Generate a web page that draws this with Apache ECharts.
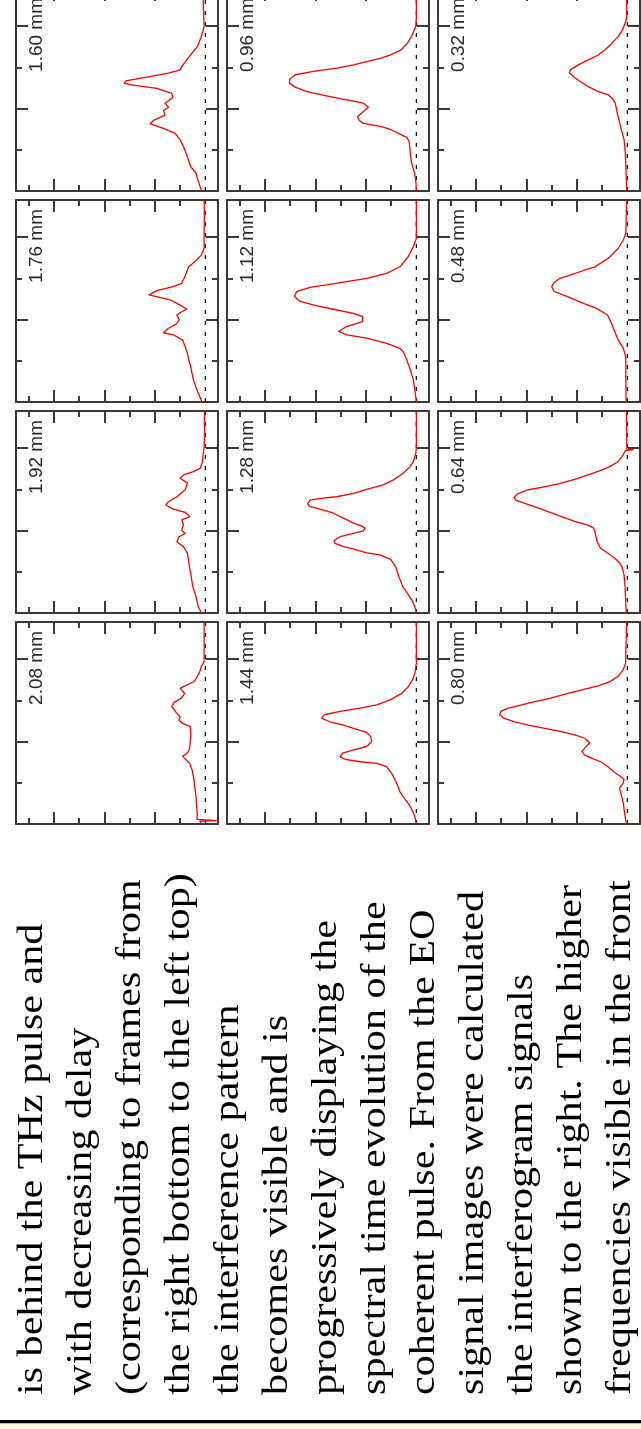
<!DOCTYPE html>
<html><head><meta charset="utf-8">
<script src="https://cdn.jsdelivr.net/npm/echarts@6/dist/echarts.min.js"></script>
<style>html,body{margin:0;padding:0;background:#fff;overflow:hidden}#c{width:641px;height:1429px}</style>
</head><body><div id="c"></div><script>
// ---- panel labels (delay) ----
const labels = ['1.60 mm','1.76 mm','1.92 mm','2.08 mm','0.96 mm','1.12 mm','1.28 mm','1.44 mm','0.32 mm','0.48 mm','0.64 mm','0.80 mm'];
// ---- tick values ----
const sigMajor = [2,4,6], sigMinor = [1,3,5,7];
const timeMajor = [2,4], timeMinor = [1,3];
// ---- curves: time (a.u.) and signal (a.u.) ----
const t160 = [0,0.11,0.27,0.43,0.59,0.75,0.91,1.08,1.24,1.40,1.52,1.63,1.72,1.84,1.95,2.03,2.13,2.27,2.37,2.49,2.57,2.61,2.68,2.76,2.86,2.94,3.03,3.18,3.34,3.50,3.71,3.91,4.0,4.5,4.9];
const s160 = [0.15,0.21,0.30,0.37,0.58,0.67,0.76,0.87,1.0,1.20,1.66,2.19,2.03,1.60,1.66,1.46,1.60,1.29,1.33,1.93,2.85,3.22,3.11,2.32,1.46,1.0,0.92,0.74,0.54,0.32,0.18,0.08,0.05,0.08,0.1];
const t176 = [0,0.21,0.37,0.53,0.70,0.86,1.02,1.18,1.34,1.50,1.63,1.68,1.79,1.89,1.99,2.11,2.19,2.25,2.35,2.48,2.60,2.70,2.80,2.88,3.0,3.16,3.28,3.34,3.45,3.57,3.73,4.09,4.5,4.9];
const s176 = [0.13,0.28,0.38,0.47,0.53,0.58,0.66,0.71,0.80,0.90,1.27,1.66,1.46,1.16,1.03,1.13,0.94,0.74,1.0,1.40,2.23,1.93,1.27,0.94,0.84,0.74,0.66,0.54,0.34,0.15,0.05,0.05,0.04,0.05];
const t192 = [0,0.15,0.32,0.48,0.64,0.80,0.96,1.12,1.29,1.45,1.61,1.73,1.85,1.93,2.01,2.14,2.26,2.34,2.44,2.52,2.62,2.70,2.82,2.99,3.15,3.27,3.35,3.43,3.51,3.63,3.88,4.04,4.36,4.68,4.9];
const s192 = [0.15,0.28,0.34,0.41,0.50,0.54,0.58,0.63,0.67,0.71,0.87,1.13,1.04,0.80,0.94,0.87,0.94,0.61,0.80,1.27,1.56,1.46,1.13,0.80,0.71,1.0,0.87,0.47,0.21,0.13,0.08,0.05,0.03,0.04,0.03];
const t208 = [0,0.07,0.08,0.10,0.11,0.26,0.45,0.66,0.9,1.07,1.3,1.47,1.55,1.64,1.72,1.8,1.96,2.2,2.36,2.44,2.52,2.6,2.7,2.85,2.95,3.05,3.17,3.29,3.37,3.45,3.58,3.7,3.82,3.94,4.9];
const s208 = [0.15,0.22,-0.45,-0.45,0.33,0.32,0.35,0.37,0.42,0.45,0.52,0.62,0.75,0.9,0.72,0.64,0.6,0.58,0.6,0.9,1.05,1.0,1.15,1.33,1.24,0.96,0.82,1.0,0.75,0.45,0.32,0.22,0.16,0.05,0.05];
const t096 = [0,0.23,0.43,0.59,0.75,1.0,1.20,1.30,1.38,1.48,1.56,1.64,1.71,1.80,1.93,2.03,2.13,2.21,2.29,2.41,2.52,2.61,2.71,2.82,2.90,2.98,3.06,3.14,3.22,3.30,3.42,3.58,3.75,3.91,4.0,4.23,4.9];
const s096 = [0,0.02,0.07,0.15,0.21,0.25,0.29,0.38,0.65,0.98,1.38,2.10,2.26,2.33,2.10,1.90,2.10,2.76,3.42,4.34,4.80,5.02,5.02,4.80,4.08,3.15,2.49,1.97,1.44,1.02,0.61,0.36,0.19,0.08,0.02,0,0];
const t112 = [0,0.25,0.53,0.8,1.02,1.20,1.30,1.42,1.55,1.63,1.71,1.83,1.95,2.07,2.15,2.25,2.33,2.44,2.56,2.68,2.78,2.84,2.92,3.0,3.12,3.28,3.53,3.77,3.97,4.9];
const s112 = [0,0.05,0.12,0.25,0.38,0.5,0.65,1.18,1.97,2.76,3.09,2.76,2.13,2.13,2.50,3.29,3.94,4.60,4.83,4.74,4.21,3.55,2.76,1.97,1.18,0.65,0.32,0.12,0,0];
const t128 = [0,0.15,0.32,0.48,0.64,0.88,1.12,1.30,1.41,1.46,1.55,1.61,1.69,1.76,1.85,1.93,1.99,2.06,2.11,2.18,2.30,2.42,2.52,2.58,2.65,2.74,2.78,2.82,2.90,3.0,3.11,3.23,3.39,3.55,3.67,3.88,4.04,4.9];
const s128 = [0,0.06,0.19,0.36,0.54,0.69,0.82,1.02,1.44,1.97,2.49,2.89,3.22,3.26,3.02,2.49,2.10,2.03,2.16,2.49,2.89,3.29,3.81,4.21,4.31,4.21,3.81,3.16,2.49,1.97,1.31,0.91,0.52,0.25,0.12,0.02,0,0];
const t144 = [0,0.18,0.34,0.50,0.66,0.78,0.99,1.23,1.39,1.47,1.51,1.57,1.63,1.72,1.80,1.88,2.0,2.12,2.22,2.32,2.40,2.48,2.56,2.65,2.73,2.81,2.89,3.01,3.17,3.33,3.50,3.66,3.90,4.9];
const s144 = [0,0.06,0.17,0.32,0.52,0.65,0.78,0.98,1.18,1.57,2.23,2.82,3.02,2.92,2.49,1.97,1.77,1.81,1.97,2.49,2.89,3.42,3.75,3.65,3.02,2.23,1.57,1.04,0.58,0.32,0.15,0.06,0,0];
const t032 = [0,0.27,0.75,1.0,1.24,1.56,1.89,2.13,2.23,2.33,2.41,2.53,2.65,2.76,2.87,2.95,3.06,3.18,3.30,3.42,3.58,3.75,3.91,4.07,4.19,4.9];
const s032 = [0.03,0.04,0.07,0.09,0.13,0.27,0.40,0.48,0.58,0.75,1.15,1.55,1.85,2.11,2.30,2.24,1.94,1.55,1.15,0.89,0.62,0.36,0.19,0.09,0.03,0.03];
const t048 = [0,0.53,1.06,1.18,1.30,1.50,1.75,1.95,2.11,2.27,2.39,2.56,2.68,2.80,2.90,3.0,3.08,3.19,3.28,3.49,3.73,3.93,4.09,4.9];
const s048 = [0.05,0.06,0.06,0.10,0.16,0.36,0.53,0.66,0.79,1.22,1.74,2.40,2.90,3.0,2.90,2.67,2.27,1.74,1.28,0.75,0.36,0.16,0.06,0.03];
const t064 = [0,0.32,0.64,0.92,1.12,1.22,1.33,1.45,1.57,1.73,1.93,2.06,2.13,2.22,2.34,2.46,2.56,2.66,2.74,2.81,2.89,2.99,3.05,3.13,3.24,3.35,3.45,3.55,3.67,3.83,3.94,3.96,3.965,3.975,3.98,4.9];
const s064 = [0.04,0.07,0.09,0.13,0.21,0.31,0.50,0.77,1.06,1.20,1.27,1.33,1.56,2.09,2.61,3.14,3.60,4.06,4.43,4.49,4.35,3.93,3.40,2.74,2.09,1.56,1.10,0.70,0.37,0.17,0.08,0.05,-0.25,-0.25,0.02,0.04];
const t080 = [0,0.26,0.50,0.70,0.87,0.99,1.08,1.17,1.25,1.39,1.51,1.59,1.67,1.76,1.84,1.97,2.08,2.16,2.24,2.32,2.40,2.48,2.56,2.65,2.73,2.81,2.89,2.97,3.05,3.17,3.27,3.35,3.45,3.58,3.74,3.90,4.9];
const s080 = [0.04,0.11,0.16,0.24,0.31,0.17,0.13,0.31,0.50,0.77,1.06,1.40,1.69,1.80,1.69,1.49,1.69,2.09,2.61,3.27,3.93,4.46,4.88,5.06,5.01,4.72,4.19,3.67,3.07,2.35,1.69,1.16,0.70,0.37,0.17,0.07,0.03];
// ---- caption text ----
const captionLines = [
  'is behind the THz pulse and',
  'with decreasing delay',
  '(corresponding to frames from',
  'the right bottom to the left top)',
  'the interference pattern',
  'becomes visible and is',
  'progressively displaying the',
  'spectral time evolution of the',
  'coherent pulse. From the EO',
  'signal images were calculated',
  'the interferogram signals',
  'shown to the right. The higher',
  'frequencies visible in the front'
];

const curvesT = [t160,t176,t192,t208,t096,t112,t128,t144,t032,t048,t064,t080];
const curvesS = [s160,s176,s192,s208,s096,s112,s128,s144,s032,s048,s064,s080];

// layout (image orientation: page rotated 90deg)
const colLeft = [16, 227, 438];
const rowTop = [-11, 200, 411, 622];
const PW = 202, PH = 202;
const SMIN = -0.5, SMAX = 7.5, TMIN = 0, TMAX = 4.9;
const frameColor = '#3a3a3a';

const grids = [], xAxes = [], yAxes = [], series = [], gfx = [];

function xAx(g, pos, ticks, len, line) {
  return {type:'value', gridIndex:g, position:pos, min:SMIN, max:SMAX, inverse:true,
    axisLine:{show:line, onZero:false, lineStyle:{color:frameColor, width:2}},
    axisTick:{show:true, inside:true, length:len, customValues:ticks, lineStyle:{color:frameColor, width:2}},
    axisLabel:{show:false}, splitLine:{show:false}, minorTick:{show:false}};
}
function yAx(g, pos, ticks, len, line) {
  return {type:'value', gridIndex:g, position:pos, min:TMIN, max:TMAX,
    axisLine:{show:line, onZero:false, lineStyle:{color:frameColor, width:2}},
    axisTick:{show:true, inside:true, length:len, customValues:ticks, lineStyle:{color:frameColor, width:2}},
    axisLabel:{show:false}, splitLine:{show:false}, minorTick:{show:false}};
}

for (let i = 0; i < 12; i++) {
  const col = Math.floor(i / 4), row = i % 4;
  const L = colLeft[col], T = rowTop[row];
  const gMain = 2 * i, gMinor = 2 * i + 1;
  [gMain, gMinor].forEach(g => grids.push({left:L, top:T, width:PW, height:PH, containLabel:false, outerBoundsMode:'none'}));
  xAxes.push(xAx(gMain,'bottom',sigMajor,12,true), xAx(gMain,'top',sigMajor,12,true));
  yAxes.push(yAx(gMain,'left',timeMajor,12,true), yAx(gMain,'right',timeMajor,12,true));
  xAxes.push(xAx(gMinor,'bottom',sigMinor,6,false), xAx(gMinor,'top',sigMinor,6,false));
  yAxes.push(yAx(gMinor,'left',timeMinor,6,false), yAx(gMinor,'right',timeMinor,6,false));
  const xi = 4 * i, yi = 4 * i;
  series.push({type:'line', xAxisIndex:xi, yAxisIndex:yi, data:[[0,TMIN],[0,TMAX]], symbol:'none', silent:true,
    lineStyle:{color:'#111', width:1.3, type:[4,7]}, z:2});
  const tt = curvesT[i], ss = curvesS[i];
  series.push({type:'line', xAxisIndex:xi, yAxisIndex:yi, data:tt.map((t,k)=>[ss[k], t]), symbol:'none', silent:true,
    lineStyle:{color:'#ff0000', width:1.3}, z:3});
  gfx.push({type:'text', x:L + 11, y:T + 9, rotation:Math.PI/2, z:10,
    style:{text:labels[i], fontSize:19, fontFamily:'Liberation Sans', fill:'#2a2a2a',
      align:'right', textAlign:'right', verticalAlign:'top', textVerticalAlign:'top'}});
}

captionLines.forEach((line, k) => {
  const baseline = 45 + 49 * k;
  gfx.push({type:'text', x: baseline - 12, y: 1395, rotation: Math.PI/2, scaleX: 1.17, z:10,
    style:{text:line, fontSize:36, fontFamily:'Liberation Serif', fill:'#000',
      align:'left', textAlign:'left', verticalAlign:'middle', textVerticalAlign:'middle'}});
});
gfx.push({type:'rect', shape:{x:0, y:1420, width:641, height:3.5}, style:{fill:'#000'}, z:10});
gfx.push({type:'rect', shape:{x:0, y:1423.5, width:641, height:6}, style:{fill:'#fdfde3'}, z:10});

const chart = echarts.init(document.getElementById('c'), null, {renderer:'canvas'});
chart.setOption({
  animation:false,
  backgroundColor:'#ffffff',
  grid:grids, xAxis:xAxes, yAxis:yAxes, series:series,
  graphic:{elements:gfx}
});
</script></body></html>
